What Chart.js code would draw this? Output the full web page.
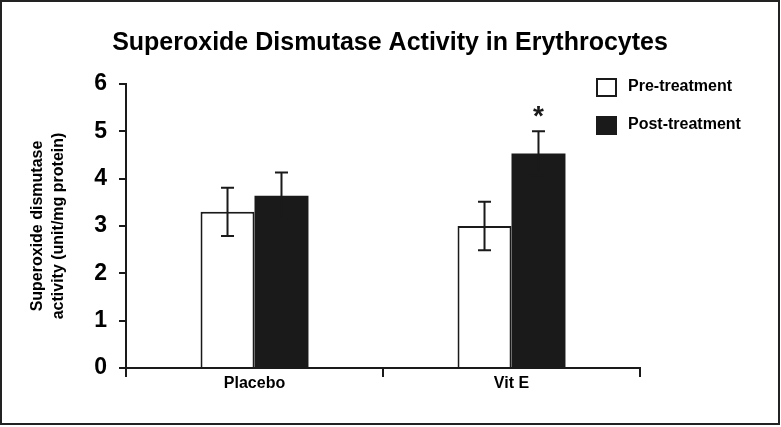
<!DOCTYPE html>
<html lang="en">
<head>
  <meta charset="UTF-8">
  <title>Superoxide Dismutase Activity in Erythrocytes</title>
  <script src="https://cdn.jsdelivr.net/npm/chart.js"></script>
  <style>
    body {
      margin: 0;
      padding: 0;
      background: #fff;
    }
    #wrap {
      width: 781px;
      height: 427px;
    }
  </style>
</head>
<body>

  <div id="wrap">
    <canvas id="sodChart" width="781" height="427"></canvas>
  </div>

  <script>
    // Data
    const groups = ['Placebo', 'Vit E'];
    const seriesNames = ['Pre-treatment', 'Post-treatment'];
    const preValues = [3.30, 3.00];
    const preErrors = [0.51, 0.51];
    const postValues = [3.64, 4.53];
    const postErrors = [0.49, 0.47];
    const postSignif = ['', '*'];
    const yTicks = [0, 1, 2, 3, 4, 5, 6];

    const ink = '#1a1a1a';
    const fontFamily = '"Liberation Sans", Arial, sans-serif';

    // Error bars + significance marks
    const errorBars = {
      id: 'errorBars',
      afterDatasetsDraw(chart) {
        const ctx = chart.ctx;
        const y = chart.scales.y;
        const errs = [preErrors, postErrors];
        ctx.save();
        ctx.strokeStyle = ink;
        ctx.lineWidth = 2;
        chart.data.datasets.forEach((ds, i) => {
          const meta = chart.getDatasetMeta(i);
          meta.data.forEach((bar, j) => {
            const v = ds.data[j];
            const e = errs[i][j];
            const top = y.getPixelForValue(v + e);
            const bot = y.getPixelForValue(v - e);
            const cap = 6.5;
            ctx.beginPath();
            ctx.moveTo(bar.x, top);
            ctx.lineTo(bar.x, bot);
            ctx.moveTo(bar.x - cap, top);
            ctx.lineTo(bar.x + cap, top);
            ctx.moveTo(bar.x - cap, bot);
            ctx.lineTo(bar.x + cap, bot);
            ctx.stroke();
            if (i === 1 && postSignif[j]) {
              ctx.fillStyle = ink;
              ctx.font = 'bold 28px ' + fontFamily;
              ctx.textAlign = 'center';
              ctx.textBaseline = 'middle';
              ctx.fillText(postSignif[j], bar.x, top - 14);
            }
          });
        });
        ctx.restore();
      }
    };

    // Title, legend and frame drawn by hand
    const decorations = {
      id: 'decorations',
      afterDraw(chart) {
        const ctx = chart.ctx;
        ctx.save();
        ctx.fillStyle = '#000';
        ctx.font = 'bold 25px ' + fontFamily;
        ctx.textAlign = 'center';
        ctx.textBaseline = 'middle';
        ctx.fillText('Superoxide Dismutase Activity in Erythrocytes', 390, 43);

        // legend
        const rows = [87, 125];
        chart.data.datasets.forEach((ds, i) => {
          ctx.fillStyle = ds.backgroundColor;
          ctx.fillRect(597, rows[i] - 8, 19, 17);
          ctx.strokeStyle = ink;
          ctx.lineWidth = 2;
          ctx.strokeRect(597, rows[i] - 8, 19, 17);
          ctx.fillStyle = '#000';
          ctx.font = 'bold 16px ' + fontFamily;
          ctx.textAlign = 'left';
          ctx.fillText(ds.label, 628, rows[i]);
        });

        // outer frame
        ctx.strokeStyle = '#222';
        ctx.lineWidth = 2;
        ctx.strokeRect(1, 1, 778, 423);
        ctx.restore();
      }
    };

    const ctx = document.getElementById('sodChart').getContext('2d');
    new Chart(ctx, {
      type: 'bar',
      data: {
        labels: groups,
        datasets: [{
          label: seriesNames[0],
          data: preValues,
          backgroundColor: '#ffffff',
          borderColor: ink,
          borderWidth: 2,
          borderSkipped: 'start'
        }, {
          label: seriesNames[1],
          data: postValues,
          backgroundColor: ink,
          borderColor: ink,
          borderWidth: 0
        }]
      },
      options: {
        responsive: false,
        animation: false,
        devicePixelRatio: 1,
        categoryPercentage: 0.42,
        barPercentage: 1,
        layout: {
          padding: { left: 0, top: 84, right: 141, bottom: 29 }
        },
        plugins: {
          legend: { display: false },
          title: { display: false },
          tooltip: { enabled: false }
        },
        scales: {
          x: {
            afterFit: (s) => { s.height = 30; },
            grid: {
              offset: true,
              drawOnChartArea: false,
              drawTicks: true,
              tickLength: 9,
              color: ink,
              lineWidth: 2
            },
            border: { color: ink, width: 2 },
            ticks: {
              color: '#000',
              padding: -3,
              font: { family: fontFamily, size: 16, weight: 'bold' }
            }
          },
          y: {
            min: 0,
            max: 6,
            afterFit: (s) => { s.width = 126; },
            afterBuildTicks: (s) => { s.ticks = yTicks.map(v => ({ value: v })); },
            grid: {
              drawOnChartArea: false,
              drawTicks: true,
              tickLength: 7,
              color: ink,
              lineWidth: 2
            },
            border: { color: ink, width: 2 },
            ticks: {
              color: '#000',
              padding: 12,
              font: { family: fontFamily, size: 23, weight: 'bold' }
            },
            title: {
              display: true,
              text: ['Superoxide dismutase', 'activity (unit/mg protein)'],
              color: '#000',
              padding: { top: 27 },
              font: { family: fontFamily, size: 16, weight: 'bold', lineHeight: 1.3 }
            }
          }
        }
      },
      plugins: [errorBars, decorations]
    });
  </script>

</body>
</html>
